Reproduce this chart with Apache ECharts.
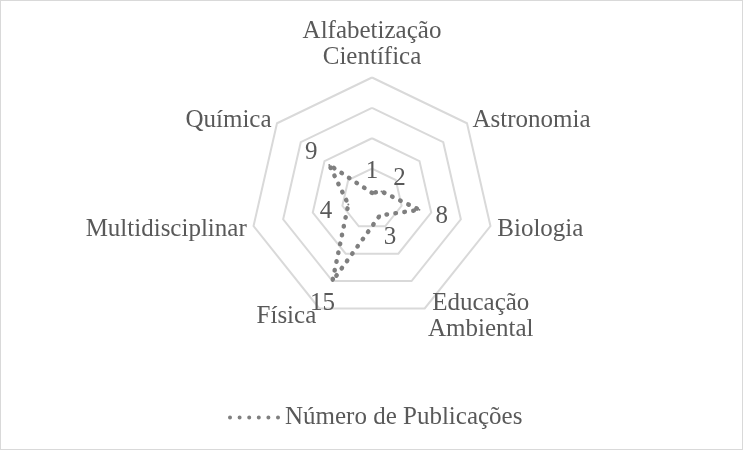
<!DOCTYPE html>
<html>
<head>
<meta charset="utf-8">
<script src="https://cdn.jsdelivr.net/npm/echarts@6/dist/echarts.min.js"></script>
<style>
html,body{margin:0;padding:0;background:#fff;}
#wrap{position:relative;width:743px;height:450px;}
#chart{position:absolute;left:0;top:0;width:743px;height:450px;}
#frame{position:absolute;left:0;top:0;width:743px;height:450px;box-sizing:border-box;border:1.5px solid #d9d9d9;pointer-events:none;}
</style>
</head>
<body>
<div id="wrap"><div id="chart"></div><div id="frame"></div></div>
<script>
// Categories in clockwise order starting from the top (as read in the picture)
const categories = ['Alfabetização\nCientífica', 'Astronomia', 'Biologia', 'Educação\nAmbiental', 'Física', 'Multidisciplinar', 'Química'];
const values = [1, 2, 8, 3, 15, 4, 9];
const seriesName = 'Número de Publicações';
const axisMax = 20;
const splitCount = 4;

const FONT = "'Liberation Serif', 'Times New Roman', serif";
const TEXT = '#595959';
const FS = 25;
const CX = 372, CY = 199, R = 121.5;

// ECharts lays radar indicators counterclockwise; reorder so they read clockwise
const order = [0];
for (let i = categories.length - 1; i >= 1; i--) order.push(i);
const indicators = order.map(i => ({ name: categories[i], max: axisMax, min: 0 }));
const drawValues = order.map(i => values[i]);

const chart = echarts.init(document.getElementById('chart'), null, { renderer: 'canvas' });

const legendIcon = 'path://M0,2a2,2 0 1,0 4,0a2,2 0 1,0 -4,0M9.6,2a2,2 0 1,0 4,0a2,2 0 1,0 -4,0M19.2,2a2,2 0 1,0 4,0a2,2 0 1,0 -4,0M28.8,2a2,2 0 1,0 4,0a2,2 0 1,0 -4,0M38.4,2a2,2 0 1,0 4,0a2,2 0 1,0 -4,0M48,2a2,2 0 1,0 4,0a2,2 0 1,0 -4,0';

chart.setOption({
  animation: false,
  backgroundColor: '#ffffff',
  textStyle: { fontFamily: FONT },
  legend: {
    bottom: 15,
    left: 223,
    data: [seriesName],
    icon: legendIcon,
    itemWidth: 52,
    itemHeight: 4,
    itemGap: 10,
    textStyle: { fontFamily: FONT, fontSize: FS, color: TEXT, padding: [3, 0, 0, 0] },
    itemStyle: { color: '#7f7f7f' }
  },
  radar: {
    center: [CX, CY],
    radius: R,
    startAngle: 90,
    shape: 'polygon',
    splitNumber: splitCount,
    indicator: indicators,
    nameGap: 7,
    axisName: {
      color: TEXT,
      fontFamily: FONT,
      fontSize: FS,
      lineHeight: 26,
      padding: [4, 0, 0, 0],
      formatter: function (name) {
        if (name.indexOf('\n') >= 0) {
          const parts = name.split('\n');
          const key = parts[0].length > 10 ? 'w' : 'e';
          return parts.map(s => '{' + key + '|' + s + '}').join('\n');
        }
        return name;
      },
      rich: {
        w: { width: 142, align: 'center', fontFamily: FONT, fontSize: FS, color: TEXT, lineHeight: 26 },
        e: { width: 106, align: 'center', fontFamily: FONT, fontSize: FS, color: TEXT, lineHeight: 26 }
      }
    },
    axisLine: { show: false },
    axisTick: { show: false },
    axisLabel: { show: false },
    splitArea: { show: false },
    splitLine: { lineStyle: { color: '#d9d9d9', width: 2 } }
  },
  series: [{
    type: 'radar',
    name: seriesName,
    symbol: 'circle',
    symbolSize: 2,
    itemStyle: { color: '#7f7f7f' },
    lineStyle: { color: '#7f7f7f', width: 4.5, type: [0.5, 8.5], cap: 'round' },
    label: {
      show: true,
      position: 'inside',
      color: TEXT,
      fontFamily: FONT,
      fontSize: FS
    },
    labelLayout: function (p) {
      const r = p.rect;
      const x = r.x + r.width / 2, y = r.y + r.height / 2;
      const dx = x - CX, dy = y - CY;
      const len = Math.sqrt(dx * dx + dy * dy) || 1;
      const D = 23;
      return { x: x + dx / len * D, y: y + dy / len * D + 1.5, align: 'center', verticalAlign: 'middle' };
    },
    data: [{ value: drawValues, name: seriesName }]
  }]
});
</script>
</body>
</html>
